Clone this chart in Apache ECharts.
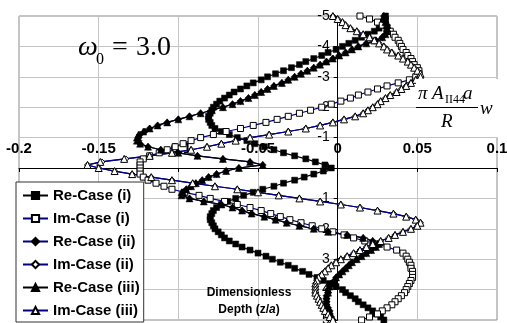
<!DOCTYPE html>
<html>
<head>
<meta charset="utf-8">
<script src="https://cdn.jsdelivr.net/npm/echarts@6/dist/echarts.min.js"></script>
<style>
  html, body { margin: 0; padding: 0; background: #fff; }
  #chart { width: 507px; height: 323px; }
</style>
</head>
<body>
<div id="chart"></div>
<script>
// Dimensionless depth z/a (vertical axis, downward positive)
const depth = [
  -5.0,-4.9,-4.8,-4.7,-4.6,-4.5,-4.4,-4.3,-4.2,-4.1,
  -4.0,-3.9,-3.8,-3.7,-3.6,-3.5,-3.4,-3.3,-3.2,-3.1,
  -3.0,-2.9,-2.8,-2.7,-2.6,-2.5,-2.4,-2.3,-2.2,-2.1,
  -2.0,-1.9,-1.8,-1.7,-1.6,-1.5,-1.4,-1.3,-1.2,-1.1,
  -1.0,-0.9,-0.8,-0.7,-0.6,-0.5,-0.4,-0.3,-0.2,-0.1,
  0.0,
  0.1,0.2,0.3,0.4,0.5,0.6,0.7,0.8,0.9,1.0,
  1.1,1.2,1.3,1.4,1.5,1.6,1.7,1.8,1.9,2.0,
  2.1,2.2,2.3,2.4,2.5,2.6,2.7,2.8,2.9,3.0,
  3.1,3.2,3.3,3.4,3.5,3.6,3.7,3.8,3.9,4.0,
  4.1,4.2,4.3,4.4,4.5,4.6,4.7,4.8,4.9,5.0
];

// Normalised displacement  pi*A_II44*a/R * w  for each case
const reCase1 = [
  0.030,0.030,0.029,0.028,0.026,0.023,0.019,0.015,0.011,0.007,
  0.003,-0.001,-0.006,-0.010,-0.015,-0.020,-0.024,-0.029,-0.034,-0.039,
  -0.044,-0.048,-0.053,-0.057,-0.061,-0.065,-0.068,-0.071,-0.074,-0.076,
  -0.078,-0.079,-0.080,-0.081,-0.081,-0.080,-0.079,-0.077,-0.073,-0.068,
  -0.063,-0.057,-0.052,-0.046,-0.040,-0.034,-0.027,-0.020,-0.014,-0.008,
  -0.004,
  -0.009,-0.015,-0.021,-0.027,-0.034,-0.040,-0.047,-0.053,-0.059,-0.064,
  -0.069,-0.073,-0.076,-0.078,-0.079,-0.080,-0.080,-0.079,-0.078,-0.077,
  -0.075,-0.073,-0.071,-0.068,-0.064,-0.060,-0.055,-0.050,-0.045,-0.041,
  -0.036,-0.031,-0.027,-0.022,-0.018,-0.013,-0.009,-0.005,-0.001,0.003,
  0.005,0.008,0.011,0.013,0.016,0.019,0.022,0.024,0.027,0.029
];
const imCase1 = [
  0.014,0.020,0.025,0.028,0.031,0.033,0.035,0.036,0.038,0.039,
  0.040,0.041,0.043,0.044,0.046,0.047,0.048,0.050,0.051,0.051,
  0.049,0.045,0.038,0.031,0.025,0.019,0.013,0.008,0.002,-0.004,
  -0.010,-0.017,-0.024,-0.031,-0.038,-0.045,-0.053,-0.061,-0.070,-0.078,
  -0.086,-0.092,-0.097,-0.102,-0.107,-0.112,-0.118,-0.122,-0.124,-0.124,
  -0.124,
  -0.124,-0.124,-0.122,-0.119,-0.114,-0.109,-0.104,-0.096,-0.087,-0.080,
  -0.071,-0.063,-0.055,-0.048,-0.042,-0.036,-0.030,-0.023,-0.016,-0.010,
  -0.003,0.004,0.010,0.017,0.025,0.031,0.037,0.041,0.043,0.044,
  0.045,0.046,0.046,0.047,0.047,0.047,0.046,0.045,0.044,0.043,
  0.042,0.040,0.038,0.036,0.034,0.031,0.028,0.025,0.020,0.015
];
const reCase2 = [
  0.029,0.030,0.030,0.031,0.031,0.031,0.030,0.028,0.024,0.018,
  0.013,0.009,0.005,0.001,-0.003,-0.007,-0.011,-0.015,-0.019,-0.023,
  -0.027,-0.031,-0.035,-0.040,-0.044,-0.048,-0.052,-0.056,-0.061,-0.066,
  -0.072,-0.079,-0.086,-0.093,-0.100,-0.107,-0.113,-0.118,-0.121,-0.124,
  -0.125,-0.125,-0.124,-0.119,-0.111,-0.100,-0.088,-0.072,-0.055,-0.047,
  -0.062,
  -0.070,-0.076,-0.081,-0.085,-0.089,-0.092,-0.095,-0.097,-0.097,-0.093,
  -0.084,-0.073,-0.066,-0.060,-0.054,-0.046,-0.039,-0.032,-0.024,-0.015,
  -0.006,0.006,0.016,0.022,0.025,0.024,0.021,0.018,0.015,0.012,
  0.009,0.007,0.005,0.003,0.001,-0.001,-0.002,-0.004,-0.005,-0.006,
  -0.006,-0.007,-0.007,-0.007,-0.007,-0.006,-0.005,-0.005,-0.004,-0.003
];
const imCase2 = [
  -0.003,0.000,0.003,0.005,0.008,0.012,0.016,0.020,0.023,0.026,
  0.029,0.031,0.034,0.038,0.041,0.044,0.046,0.048,0.050,0.051,
  0.051,0.049,0.046,0.043,0.040,0.037,0.033,0.030,0.027,0.025,
  0.022,0.019,0.016,0.011,0.004,-0.003,-0.011,-0.020,-0.031,-0.043,
  -0.055,-0.064,-0.073,-0.082,-0.092,-0.104,-0.118,-0.133,-0.148,-0.157,
  -0.150,
  -0.140,-0.129,-0.117,-0.104,-0.091,-0.077,-0.063,-0.050,-0.037,-0.024,
  -0.011,0.002,0.014,0.025,0.035,0.043,0.049,0.052,0.050,0.046,
  0.041,0.036,0.032,0.027,0.022,0.018,0.014,0.010,0.006,0.002,
  -0.001,-0.004,-0.006,-0.008,-0.010,-0.012,-0.013,-0.014,-0.014,-0.014,
  -0.014,-0.013,-0.012,-0.011,-0.010,-0.009,-0.008,-0.006,-0.005,-0.003
];
const reCase3 = [
  0.029,0.030,0.030,0.031,0.031,0.031,0.030,0.028,0.024,0.018,
  0.013,0.009,0.005,0.001,-0.003,-0.007,-0.011,-0.015,-0.019,-0.023,
  -0.027,-0.031,-0.035,-0.040,-0.044,-0.048,-0.052,-0.056,-0.061,-0.066,
  -0.072,-0.079,-0.086,-0.093,-0.100,-0.107,-0.113,-0.118,-0.122,-0.125,
  -0.126,-0.126,-0.124,-0.119,-0.111,-0.100,-0.088,-0.072,-0.055,-0.047,
  -0.062,
  -0.070,-0.076,-0.081,-0.085,-0.089,-0.092,-0.095,-0.098,-0.098,-0.093,
  -0.084,-0.073,-0.066,-0.060,-0.054,-0.046,-0.039,-0.032,-0.024,-0.015,
  -0.006,0.006,0.016,0.022,0.026,0.024,0.021,0.018,0.015,0.012,
  0.009,0.007,0.005,0.003,0.001,-0.001,-0.002,-0.004,-0.005,-0.006,
  -0.006,-0.007,-0.007,-0.007,-0.007,-0.006,-0.005,-0.005,-0.004,-0.003
];
const imCase3 = [
  -0.003,0.000,0.003,0.005,0.008,0.012,0.016,0.020,0.023,0.026,
  0.029,0.031,0.034,0.038,0.041,0.044,0.046,0.048,0.050,0.052,
  0.052,0.049,0.046,0.043,0.040,0.037,0.033,0.030,0.027,0.025,
  0.022,0.019,0.016,0.011,0.004,-0.003,-0.011,-0.020,-0.031,-0.043,
  -0.055,-0.064,-0.073,-0.082,-0.092,-0.104,-0.118,-0.134,-0.149,-0.157,
  -0.150,
  -0.140,-0.129,-0.117,-0.104,-0.091,-0.077,-0.063,-0.050,-0.037,-0.024,
  -0.011,0.002,0.014,0.025,0.035,0.043,0.049,0.052,0.050,0.046,
  0.041,0.036,0.032,0.027,0.022,0.018,0.014,0.010,0.006,0.002,
  -0.001,-0.004,-0.006,-0.008,-0.010,-0.012,-0.013,-0.014,-0.014,-0.014,
  -0.014,-0.013,-0.012,-0.011,-0.010,-0.009,-0.008,-0.006,-0.005,-0.003
];

const xTickLabels = ['-0.2', '-0.15', '-0.1', '-0.05', '0', '0.05', '0.1'];
const yTickLabels = ['-5', '-4', '-3', '-2', '-1', '0', '1', '2', '3', '4', '5'];

const SANS = '"Liberation Sans", Arial, sans-serif';
const SERIF = '"Liberation Serif", "Times New Roman", serif';
const NAVY = '#000080';

// plot rectangle
const GRID = { left: 19, right: 10, top: 16, bottom: 3 };
const PLOT_W = 507 - GRID.left - GRID.right;
const PLOT_H = 323 - GRID.top - GRID.bottom;
const X_MIN = -0.2, X_MAX = 0.1, Z_MIN = -5, Z_MAX = 5;
// the axes cross at the origin: shift them in from the plot edges
const yAxisShift = PLOT_W * (0 - X_MIN) / (X_MAX - X_MIN);
const xAxisShift = PLOT_H * (Z_MAX - 0) / (Z_MAX - Z_MIN);

function curve(values) {
  return values.map((v, i) => [v, depth[i]]);
}

function makeSeries(name, values, symbol, filled, lineColor, size) {
  return {
    name: name,
    type: 'line',
    data: curve(values),
    symbol: symbol,
    symbolSize: size,
    showSymbol: true,
    smooth: false,
    animation: false,
    lineStyle: { color: lineColor, width: 1.2 },
    itemStyle: filled
      ? { color: '#000', borderColor: '#000', borderWidth: 0.5 }
      : { color: '#fff', borderColor: '#000', borderWidth: 1 }
  };
}

const chart = echarts.init(document.getElementById('chart'), null, { renderer: 'canvas' });

chart.setOption({
  backgroundColor: '#fff',
  animation: false,
  grid: {
    left: GRID.left, right: GRID.right, top: GRID.top, bottom: GRID.bottom,
    show: true, borderColor: '#8a8a8a', borderWidth: 1,
    outerBoundsMode: 'none'
  },
  xAxis: {
    type: 'value',
    position: 'bottom',
    offset: -xAxisShift,
    min: X_MIN, max: X_MAX, interval: 0.05,
    axisLine: { onZero: false, lineStyle: { color: '#000', width: 1 } },
    axisTick: { show: true, length: 4, lineStyle: { color: '#000' } },
    axisLabel: {
      inside: true, margin: 12,
      showMinLabel: true, showMaxLabel: true,
      fontFamily: SANS, fontSize: 15, fontWeight: 'bold', color: '#000',
      formatter: (v, i) => xTickLabels[i]
    },
    splitLine: { show: true, lineStyle: { color: '#c4c4c4', width: 1 } }
  },
  yAxis: {
    type: 'value',
    position: 'left',
    offset: -yAxisShift,
    inverse: true,
    min: Z_MIN, max: Z_MAX, interval: 1,
    axisLine: { onZero: false, lineStyle: { color: '#000', width: 1 } },
    axisTick: { show: true, length: 4, lineStyle: { color: '#000' } },
    axisLabel: {
      margin: 8,
      showMinLabel: true, showMaxLabel: true,
      fontFamily: SANS, fontSize: 14, color: '#000',
      padding: [6, 0, 0, 0],
      formatter: (v, i) => yTickLabels[i]
    },
    splitLine: { show: true, lineStyle: { color: '#c4c4c4', width: 1 } }
  },
  legend: {
    orient: 'vertical',
    left: 16, top: 182,
    padding: [6, 4, 4, 6],
    itemWidth: 25, itemHeight: 9, itemGap: 8,
    backgroundColor: '#fff',
    borderColor: '#333', borderWidth: 1, borderRadius: 0,
    textStyle: { fontFamily: SANS, fontSize: 15, fontWeight: 'bold', color: '#000' },
    data: ['Re-Case (i)', 'Im-Case (i)', 'Re-Case (ii)', 'Im-Case (ii)', 'Re-Case (iii)', 'Im-Case (iii)']
  },
  series: [
    makeSeries('Re-Case (i)', reCase1, 'rect', true, '#000', 6),
    makeSeries('Im-Case (i)', imCase1, 'rect', false, NAVY, 6),
    makeSeries('Re-Case (ii)', reCase2, 'diamond', true, NAVY, 7),
    makeSeries('Im-Case (ii)', imCase2, 'diamond', false, NAVY, 6),
    makeSeries('Re-Case (iii)', reCase3, 'triangle', true, '#000', 7),
    makeSeries('Im-Case (iii)', imCase3, 'triangle', false, NAVY, 7)
  ],
  graphic: [
    // frequency annotation
    { type: 'text', z: 5, x: 78, y: 48, style: { text: 'ω', font: 'italic 28px ' + SERIF, fill: '#000', verticalAlign: 'middle' } },
    { type: 'text', z: 5, x: 96, y: 60, style: { text: '0', font: '16px ' + SERIF, fill: '#000', verticalAlign: 'middle' } },
    { type: 'text', z: 5, x: 112, y: 48, style: { text: '=', font: '28px ' + SERIF, fill: '#000', verticalAlign: 'middle' } },
    { type: 'text', z: 5, x: 136, y: 48, style: { text: '3.0', font: '28px ' + SERIF, fill: '#000', verticalAlign: 'middle' } },
    // horizontal-axis quantity
    { type: 'rect', z: 5, shape: { x: 416, y: 79, width: 91, height: 58 }, style: { fill: '#fff' } },
    { type: 'text', z: 6, x: 418, y: 94, style: { text: 'π', font: 'italic 19px ' + SERIF, fill: '#000', verticalAlign: 'middle' } },
    { type: 'text', z: 6, x: 432, y: 94, style: { text: 'A', font: 'italic 19px ' + SERIF, fill: '#000', verticalAlign: 'middle' } },
    { type: 'text', z: 6, x: 445, y: 100, style: { text: 'II44', font: '12px ' + SERIF, fill: '#000', verticalAlign: 'middle' } },
    { type: 'text', z: 6, x: 463, y: 94, style: { text: 'a', font: 'italic 19px ' + SERIF, fill: '#000', verticalAlign: 'middle' } },
    { type: 'line', z: 6, shape: { x1: 416, y1: 107.5, x2: 478, y2: 107.5 }, style: { stroke: '#000', lineWidth: 1 } },
    { type: 'text', z: 6, x: 441, y: 122, style: { text: 'R', font: 'italic 19px ' + SERIF, fill: '#000', verticalAlign: 'middle' } },
    { type: 'text', z: 6, x: 480, y: 109, style: { text: 'w', font: 'italic 19px ' + SERIF, fill: '#000', verticalAlign: 'middle' } },
    // vertical-axis quantity
    { type: 'text', z: 5, x: 249, y: 292.5, style: { text: 'Dimensionless', font: 'bold 12px ' + SANS, fill: '#000', align: 'center', verticalAlign: 'middle' } },
    { type: 'text', z: 5, x: 249, y: 310, style: {
        text: 'Depth (z/{i|a})', font: 'bold 12px ' + SANS, fill: '#000', align: 'center', verticalAlign: 'middle',
        rich: { i: { font: 'italic bold 12px ' + SANS, fill: '#000' } }
      } }
  ]
});
</script>
</body>
</html>
